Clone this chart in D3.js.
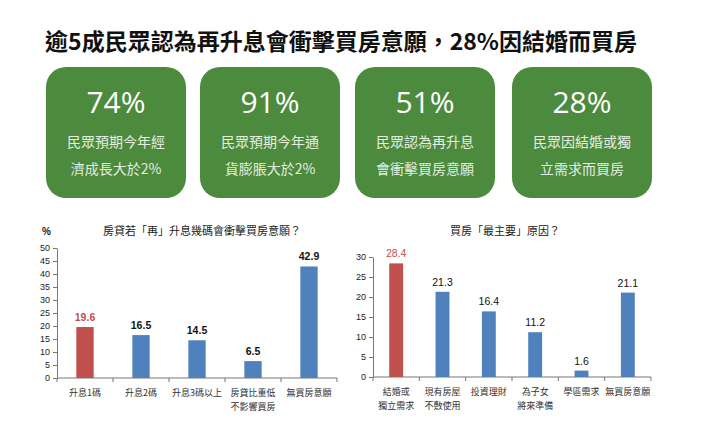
<!DOCTYPE html>
<html><head><meta charset="utf-8">
<script src="https://cdn.jsdelivr.net/npm/d3@7"></script>
<style>body{margin:0;background:#fff;}svg{display:block;font-family:"Noto Sans CJK TC","Noto Sans",sans-serif;}</style>
</head><body>
<script>
const titleText = "逾5成民眾認為再升息會衝擊買房意願，28%因結婚而買房";
const cardValues = ["74%", "91%", "51%", "28%"];
const cardLines = [["民眾預期今年經", "濟成長大於2%"], ["民眾預期今年通", "貨膨脹大於2%"], ["民眾認為再升息", "會衝擊買房意願"], ["民眾因結婚或獨", "立需求而買房"]];

const leftTitle = "房貸若「再」升息幾碼會衝擊買房意願？";
const leftCats = ["升息1碼", "升息2碼", "升息3碼以上", "房貸比重低\n不影響買房", "無買房意願"];
const leftVals = [19.6, 16.5, 14.5, 6.5, 42.9];
const leftTicks = [0, 5, 10, 15, 20, 25, 30, 35, 40, 45, 50];

const rightTitle = "買房「最主要」原因？";
const rightCats = ["結婚或\n獨立需求", "現有房屋\n不敷使用", "投資理財", "為子女\n將來準備", "學區需求", "無買房意願"];
const rightVals = [28.4, 21.3, 16.4, 11.2, 1.6, 21.1];
const rightTicks = [0, 5, 10, 15, 20, 25, 30];

const W = 703, H = 426;
const svg = d3.select("body").append("svg").attr("width", W).attr("height", H);

svg.append("text").attr("x", 341).attr("y", 50).attr("text-anchor", "middle")
  .attr("font-size", 23).attr("font-weight", "bold").attr("fill", "#111").text(titleText);

const cardX = [46, 200, 355, 512];
cardValues.forEach((v, i) => {
  const g = svg.append("g").attr("transform", `translate(${cardX[i]},67)`);
  g.append("rect").attr("width", 140).attr("height", 131).attr("rx", 20).attr("fill", "#4c8a3d");
  g.append("text").attr("x", 70).attr("y", 113 - 67).attr("text-anchor", "middle")
    .attr("font-size", 30).attr("fill", "#fff").attr("font-family", "'Open Sans','Noto Sans',sans-serif").text(v);
  cardLines[i].forEach((l, j) => {
    g.append("text").attr("x", 70).attr("y", 147 - 67 + j * 27).attr("text-anchor", "middle")
      .attr("font-size", 14).attr("fill", "#e6ede1").text(l);
  });
});

function barChart(opts) {
  const { cats, vals, ticks, x0, x1, y0, y1, ymax, pad, bold, title, titleX } = opts;
  const g = svg.append("g");
  const x = d3.scaleBand().domain(cats).range([x0, x1]).paddingInner(pad).paddingOuter(pad / 2);
  const y = d3.scaleLinear().domain([0, ymax]).range([y0, y1]);
  const ya = g.append("g").attr("transform", `translate(${x0},0)`)
    .call(d3.axisLeft(y).tickValues(ticks).tickSize(4).tickSizeOuter(0));
  ya.selectAll("text").attr("font-size", 9).attr("fill", "#222").attr("font-family", "'Liberation Sans',Arial,sans-serif");
  ya.selectAll("line,path").attr("stroke", "#777");
  g.append("line").attr("x1", x0).attr("x2", x1).attr("y1", y0).attr("y2", y0).attr("stroke", "#777");
  const step = x.step();
  d3.range(cats.length + 1).forEach(i => {
    const xx = x0 + i * step;
    g.append("line").attr("x1", xx).attr("x2", xx).attr("y1", y0).attr("y2", y0 + 4).attr("stroke", "#777");
  });
  g.selectAll(".bar").data(vals).join("rect")
    .attr("x", (d, i) => x(cats[i])).attr("width", x.bandwidth())
    .attr("y", d => y(d)).attr("height", d => y0 - y(d))
    .attr("fill", (d, i) => i === 0 ? "#c0504d" : "#4f81bd");
  g.selectAll(".vl").data(vals).join("text")
    .attr("x", (d, i) => x(cats[i]) + x.bandwidth() / 2).attr("y", d => y(d) - 6)
    .attr("text-anchor", "middle").attr("font-size", 10.5)
    .attr("font-weight", bold ? "bold" : "normal")
    .attr("font-family", "'Liberation Sans',Arial,sans-serif")
    .attr("fill", (d, i) => i === 0 ? "#c0504d" : "#111").text(d => d.toFixed(1));
  cats.forEach((c, i) => {
    c.split("\n").forEach((l, j) => {
      g.append("text").attr("x", x(c) + x.bandwidth() / 2).attr("y", y0 + 18 + j * 14)
        .attr("text-anchor", "middle").attr("font-size", 9).attr("fill", "#333").text(l);
    });
  });
  g.append("text").attr("x", titleX).attr("y", 235).attr("text-anchor", "middle")
    .attr("font-size", 11).attr("fill", "#222").text(title);
}

svg.append("text").attr("x", 42).attr("y", 235).attr("font-size", 10).attr("font-weight", "bold")
  .attr("font-family", "'Liberation Sans',Arial,sans-serif").attr("fill", "#222").text("%");

barChart({ cats: leftCats, vals: leftVals, ticks: leftTicks, x0: 57, x1: 337, y0: 378, y1: 248, ymax: 50,
  pad: 0.69, bold: true, title: leftTitle, titleX: 202 });
barChart({ cats: rightCats, vals: rightVals, ticks: rightTicks, x0: 373, x1: 651, y0: 377, y1: 257, ymax: 30,
  pad: 0.7, bold: false, title: rightTitle, titleX: 505 });
</script>
</body></html>
